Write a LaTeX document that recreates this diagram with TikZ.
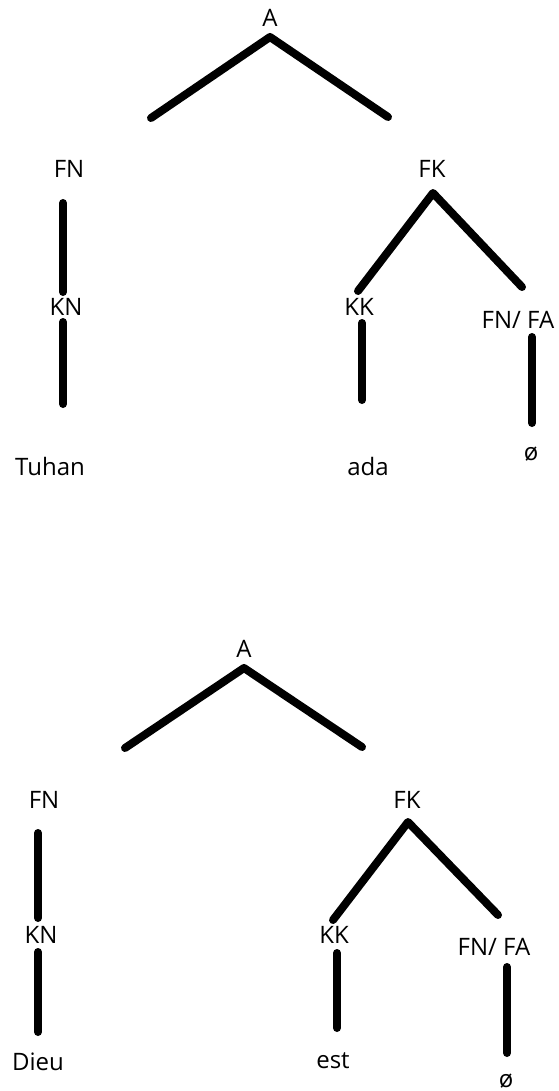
\documentclass[tikz,border=0pt]{standalone}
\usepackage{fontspec}
\setmainfont{Open Sans}
\begin{document}
\begin{tikzpicture}[x=1pt,y=-1pt,
  lbl/.style={anchor=base,inner sep=0pt,font=\fontsize{24}{28}\selectfont},
  edge/.style={line width=8pt,line cap=round,line join=round}]
\useasboundingbox (0,0) rectangle (558,1091);
% ---------- top tree ----------
\node[lbl] (tA) at (270,27) {A};
\node[lbl] (tFN) at (69,178) {FN};
\node[lbl] (tKN) at (66,315) {KN};
\node[lbl] (tTuhan) at (50,475) {Tuhan};
\node[lbl] (tFK) at (432,178) {FK};
\node[lbl] (tKK) at (359,315) {KK};
\node[lbl] (tFNFA) at (518,328) {FN/ FA};
\node[lbl] (tada) at (368,475) {ada};
\node[lbl] (tnull) at (531,460) {ø};
\coordinate (tAapex) at (270,37);
\coordinate (tAl) at (151,118);
\coordinate (tAr) at (388,117);
\coordinate (tFNb) at (63,203);
\coordinate (tKNt) at (63,292);
\coordinate (tKNb) at (63,322);
\coordinate (tTuhant) at (63,404);
\coordinate (tFKapex) at (433,193);
\coordinate (tKKt) at (358,291);
\coordinate (tFNFAt) at (522,287);
\coordinate (tKKb) at (362,323);
\coordinate (tadat) at (362,400);
\coordinate (tFNFAb) at (532,337);
\coordinate (tnullt) at (532,423);
\draw[edge] (tAl) -- (tAapex) -- (tAr);
\draw[edge] (tFNb) -- (tKNt);
\draw[edge] (tKNb) -- (tTuhant);
\draw[edge] (tKKt) -- (tFKapex) -- (tFNFAt);
\draw[edge] (tKKb) -- (tadat);
\draw[edge] (tFNFAb) -- (tnullt);
% ---------- bottom tree ----------
\node[lbl] (bA) at (244,657) {A};
\node[lbl] (bFN) at (44,808) {FN};
\node[lbl] (bKN) at (41,943) {KN};
\node[lbl] (bDieu) at (38,1070) {Dieu};
\node[lbl] (bFK) at (407,808) {FK};
\node[lbl] (bKK) at (334,943) {KK};
\node[lbl] (bFNFA) at (494,955) {FN/ FA};
\node[lbl] (best) at (333,1068) {est};
\node[lbl] (bnull) at (506,1087) {ø};
\coordinate (bAapex) at (244,668);
\coordinate (bAl) at (125,748);
\coordinate (bAr) at (362,747);
\coordinate (bFNb) at (38,833);
\coordinate (bKNt) at (38,918);
\coordinate (bKNb) at (38,952);
\coordinate (bDieut) at (38,1032);
\coordinate (bFKapex) at (408,822);
\coordinate (bKKt) at (333,920);
\coordinate (bFNFAt) at (498,915);
\coordinate (bKKb) at (337,953);
\coordinate (bestt) at (337,1028);
\coordinate (bFNFAb) at (507,967);
\coordinate (bnullt) at (507,1053);
\draw[edge] (bAl) -- (bAapex) -- (bAr);
\draw[edge] (bFNb) -- (bKNt);
\draw[edge] (bKNb) -- (bDieut);
\draw[edge] (bKKt) -- (bFKapex) -- (bFNFAt);
\draw[edge] (bKKb) -- (bestt);
\draw[edge] (bFNFAb) -- (bnullt);
\end{tikzpicture}
\end{document}
